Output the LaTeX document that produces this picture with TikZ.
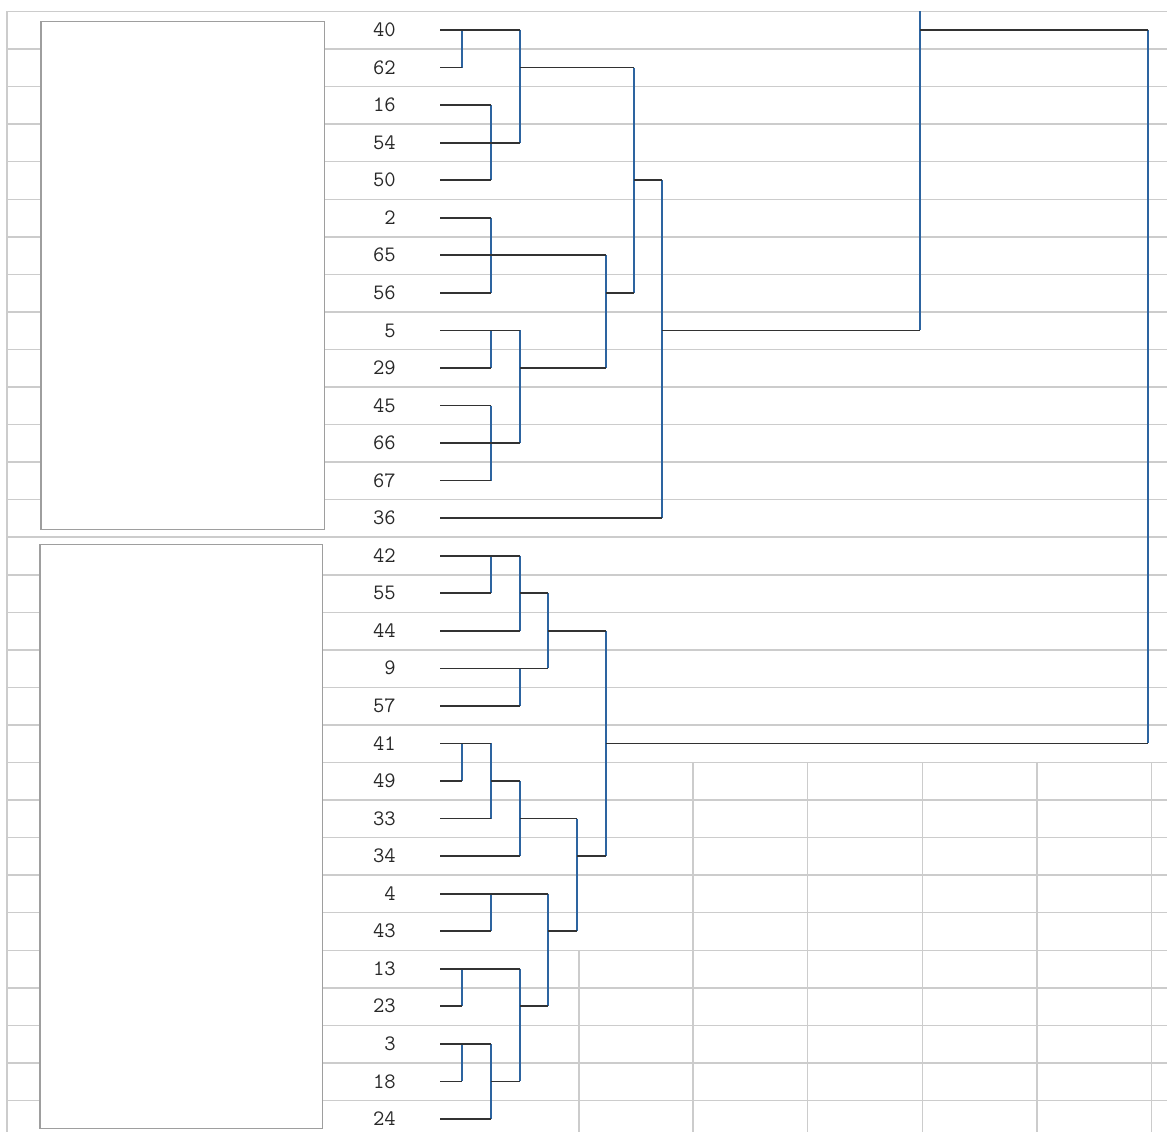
\documentclass[tikz,border=0pt]{standalone}
\usepackage{fontspec}
\definecolor{gridc}{RGB}{204,204,204}
\definecolor{panelc}{RGB}{158,158,158}
\definecolor{vcol}{RGB}{45,100,160}
\definecolor{hline}{RGB}{50,50,50}
\definecolor{txt}{RGB}{40,40,40}
\begin{document}
\begin{tikzpicture}[x=1pt,y=-1pt,
  gridln/.style={draw=gridc, line width=1.5pt},
  panel/.style={draw=panelc, fill=white, line width=1.4pt},
  lbl/.style={anchor=base east, inner sep=0pt, text=txt,
    font=\fontsize{22}{26}\selectfont\ttfamily\addfontfeatures{FakeBold=1.5}},
  hseg/.style={draw=hline, line width=1.7pt},
  vseg/.style={draw=vcol, line width=1.7pt}]
\useasboundingbox (0,0) rectangle (1167,1132);
\fill[white] (0,0) rectangle (1167,1132);
% spreadsheet grid
\foreach \k in {0,...,29}
  \draw[gridln] (7,{11.5+37.55*\k}) -- (1167,{11.5+37.55*\k});
\draw[gridln] (7,11.5) -- (7,1132);
\foreach \xx in {693,807.7,922.4,1037,1151.7}
  \draw[gridln] (\xx,762.5) -- (\xx,1132);
\draw[gridln] (579,950.3) -- (579,1132);
% blank panels
\draw[panel] (41,21.5) rectangle (324.5,529.5);
\draw[panel] (40,544.5) rectangle (322.7,1128.7);
% labels and leaf anchors
\foreach \lab [count=\i] in {40,62,16,54,50,2,65,56,5,29,45,66,67,36,42,55,44,9,57,41,49,33,34,4,43,13,23,3,18,24}{
  \pgfmathsetmacro\yy{30+37.55*(\i-1)}
  \coordinate (s\i) at (440,\yy);
  \node[lbl] (n\i) at (396,\yy+6.6) {\lab};
}
% merge columns
\coordinate (cA) at (462,0);
\coordinate (cB) at (491,0);
\coordinate (cC) at (520,0);
\coordinate (cD) at (548,0);
\coordinate (cE) at (577,0);
\coordinate (cF) at (606,0);
\coordinate (cG) at (634,0);
\coordinate (cH) at (662,0);
\coordinate (cI) at (920,0);
\coordinate (cJ) at (1148,0);
\coordinate (ctop) at (920,11.5);
% vertical connectors
\foreach \c/\a/\b in {A/1/2,A/20/21,A/26/27,A/28/29,
    B/3/5,B/6/8,B/9/10,B/11/13,B/15/16,B/20/22,B/24/25,B/28/30,
    C/1/4,C/9/12,C/15/17,C/18/19,C/21/23,C/26/29,
    D/16/18,D/24/27,E/22/25,F/7/10,F/17/23,G/2/8,H/5/14,J/1/20}
  \draw[vseg] (s\a -| c\c) -- (s\b -| c\c);
\draw[vseg] (ctop) -- (s9 -| cI);
% leaf connectors
\foreach \i/\c in {1/C,2/A,3/B,4/C,5/B,6/B,7/F,8/B,9/C,10/B,11/B,12/C,13/B,14/H,
    15/C,16/B,17/C,18/D,19/C,20/B,21/A,22/B,23/C,24/D,25/B,26/C,27/A,28/B,29/A,30/B}
  \draw[hseg] (s\i) -- (s\i -| c\c);
% cluster connectors
\foreach \i/\a/\b in {2/C/G,5/G/H,8/F/G,9/H/I,1/I/J,10/C/F,20/F/J,16/C/D,17/D/F,
    21/B/C,22/C/E,23/E/F,25/D/E,27/C/D,29/B/C}
  \draw[hseg] (s\i -| c\a) -- (s\i -| c\b);
\end{tikzpicture}
\end{document}
